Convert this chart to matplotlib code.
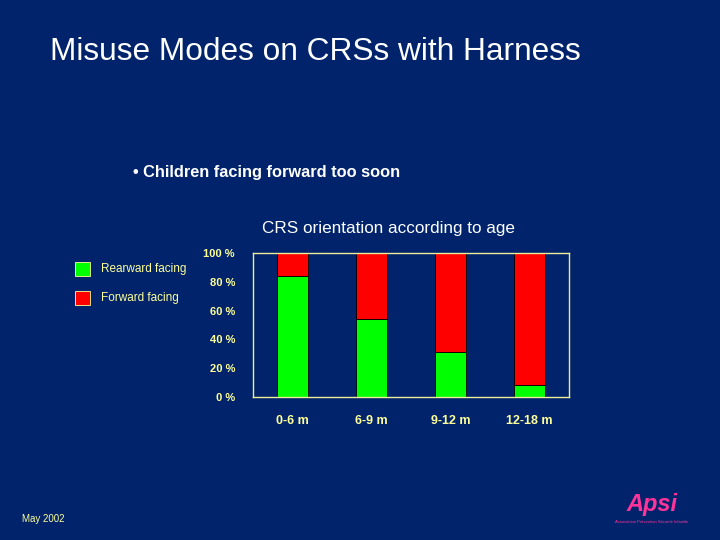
import matplotlib.pyplot as plt
import numpy as np

# CRS orientation per age group (percent)
ages = ['0-6 m', '6-9 m', '9-12 m', '12-18 m']
rearward = [84, 54, 31, 8]
forward = [16, 46, 69, 92]
yticks = [0, 20, 40, 60, 80, 100]

BG = '#00236b'
YEL = '#ffff99'

fig = plt.figure(figsize=(7.2, 5.4), dpi=100, facecolor=BG)
plt.rcParams['font.family'] = ['Liberation Sans', 'DejaVu Sans']

fig.text(50 / 720, 1 - 52 / 540, 'Misuse Modes on CRSs with Harness',
         color='white', fontsize=22.8, va='center', ha='left')
fig.text(133 / 720, 1 - 173 / 540, '\u2022 Children facing forward too soon',
         color='white', fontsize=11.8, fontweight='bold', va='center', ha='left')
fig.text(388 / 720, 1 - 229 / 540, 'CRS orientation according to age',
         color='white', fontsize=12.3, va='center', ha='center')

ax = fig.add_axes([253 / 720, 1 - 397 / 540, 316 / 720, 144 / 540])
ax.set_facecolor(BG)
x = np.arange(len(ages))
ax.bar(x, rearward, width=0.4, color='#00ff00', edgecolor='black', linewidth=0.6)
ax.bar(x, forward, width=0.4, bottom=rearward, color='#ff0000',
       edgecolor='black', linewidth=0.6)
ax.set_xlim(-0.5, len(ages) - 0.5)
ax.set_ylim(0, 100)
ax.set_yticks(yticks)
ax.set_yticklabels([f'{v} %' for v in yticks], color=YEL, fontsize=8,
                   fontweight='bold')
ax.set_xticks(x)
ax.set_xticklabels(ages, color=YEL, fontsize=9, fontweight='bold')
ax.tick_params(length=0, axis='y', pad=13)
ax.tick_params(length=0, axis='x', pad=13)
for s in ax.spines.values():
    s.set_color('#eeee99')
    s.set_linewidth(1)

# legend
for i, (lab, col) in enumerate([('Rearward facing', '#00ff00'),
                                ('Forward facing', '#ff0000')]):
    y = 1 - (269 + 29 * i) / 540
    fig.patches.append(plt.Rectangle((75 / 720, y - 7 / 540), 15 / 720, 14 / 540,
                                     transform=fig.transFigure, facecolor=col,
                                     edgecolor=YEL, linewidth=0.6))
    fig.text(101 / 720, y, lab, color=YEL, fontsize=8.5, va='center', ha='left')

fig.text(22 / 720, 1 - 519 / 540, 'May 2002', color=YEL, fontsize=7,
         va='center', ha='left')

# logo
fig.text(652 / 720, 1 - 505 / 540, 'Apsi', color='#ff3399', fontsize=17,
         fontstyle='italic', fontweight='bold', va='center', ha='center')
fig.text(652 / 720, 1 - 522 / 540, 'Association Prévention Sécurité Infantile',
         color='#ff3399', fontsize=3, va='center', ha='center')

plt.savefig('out.png', dpi=100, facecolor=BG)
